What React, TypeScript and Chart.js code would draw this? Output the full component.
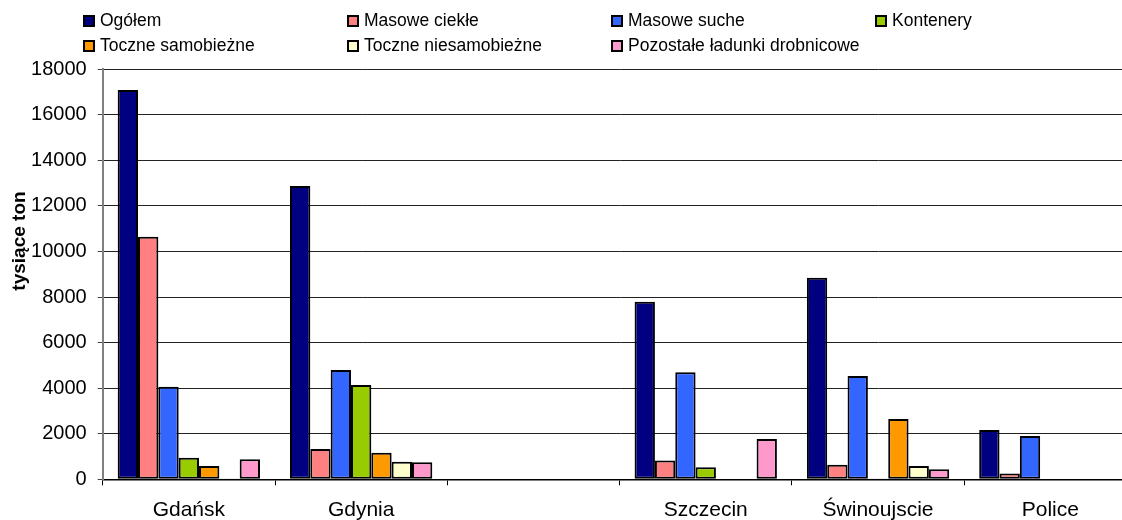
import React, { useEffect, useRef } from "react";
import { Chart, registerables } from "chart.js";

Chart.register(...registerables);

const categories = ["Gdańsk", "Gdynia", "", "Szczecin", "Świnoujscie", "Police"];
const ogolem = [17090, 12880, null, 7800, 8850, 2160];
const masoweCiekle = [10650, 1330, null, 830, 640, 260];
const masoweSuche = [4060, 4800, null, 4700, 4540, 1900];
const kontenery = [950, 4140, null, 530, 10, null];
const toczneSamobiezne = [580, 1170, null, null, 2650, null];
const toczneNiesamobiezne = [10, 770, null, null, 580, null];
const pozostale = [880, 750, null, 1770, 440, null];

const seriesNames = [
  "Ogółem",
  "Masowe ciekłe",
  "Masowe suche",
  "Kontenery",
  "Toczne samobieżne",
  "Toczne niesamobieżne",
  "Pozostałe ładunki drobnicowe",
];
const seriesColors = ["#000080", "#FF8080", "#3366FF", "#99CC00", "#FF9900", "#FFFFCC", "#FF99CC"];
const seriesData = [ogolem, masoweCiekle, masoweSuche, kontenery, toczneSamobiezne, toczneNiesamobiezne, pozostale];

const yTicks = [0, 2000, 4000, 6000, 8000, 10000, 12000, 14000, 16000, 18000];
const yTitle = "tysiące ton";

const FONT = "'Liberation Sans', Arial, sans-serif";

const overlayPlugin = {
  id: "overlay",
  afterDraw(chart: any) {
    const ctx = chart.ctx;
    ctx.save();
    // legend
    ctx.font = `17.5px ${FONT}`;
    ctx.textBaseline = "middle";
    ctx.textAlign = "left";
    chart.data.datasets.forEach((ds: any, i: number) => {
      const col = i % 4;
      const row = Math.floor(i / 4);
      const bx = 83 + 264 * col;
      const by = 15 + 25 * row;
      ctx.fillStyle = ds.backgroundColor;
      ctx.fillRect(bx, by, 12, 12);
      ctx.strokeStyle = "#000";
      ctx.lineWidth = 2;
      ctx.strokeRect(bx + 1, by + 1, 10, 10);
      ctx.fillStyle = "#000";
      ctx.fillText(ds.label, bx + 17, by + 6.5);
    });
    // y axis title
    ctx.translate(20, 241);
    ctx.rotate(-Math.PI / 2);
    ctx.font = `bold 19px ${FONT}`;
    ctx.textAlign = "center";
    ctx.fillStyle = "#000";
    ctx.fillText(yTitle, 0, 0);
    ctx.restore();
  },
};

export default function App() {
  const ref = useRef<HTMLCanvasElement | null>(null);
  useEffect(() => {
    if (!ref.current) return;
    const chart = new Chart(ref.current, {
      type: "bar",
      data: {
        labels: categories,
        datasets: seriesNames.map((name, i) => ({
          label: name,
          data: seriesData[i],
          backgroundColor: seriesColors[i],
          borderColor: "#000",
          borderWidth: 2,
          borderSkipped: false,
          barPercentage: 1,
          categoryPercentage: 0.826,
        })),
      },
      options: {
        responsive: false,
        animation: false,
        devicePixelRatio: 1,
        layout: { padding: { top: 69.3, right: 3.5, bottom: 0, left: 0 } },
        plugins: { legend: { display: false }, tooltip: { enabled: false }, title: { display: false } },
        scales: {
          x: {
            type: "category",
            offset: true,
            grid: {
              display: true,
              drawOnChartArea: false,
              drawTicks: true,
              tickLength: 6,
              offset: true,
              color: "#000",
              tickColor: "#000",
            },
            border: { display: true, color: "#000", width: 1.5 },
            ticks: { font: { family: FONT, size: 21 }, color: "#000", padding: 12, maxRotation: 0, autoSkip: false },
            afterFit: (scale: any) => {
              scale.height = 40.7;
            },
          },
          y: {
            min: 0,
            max: 18000,
            afterBuildTicks: (scale: any) => {
              scale.ticks = yTicks.map((v) => ({ value: v }));
            },
            grid: { color: "#222", tickColor: "#444", tickLength: 5, lineWidth: 1 },
            border: { display: true, color: "#808080", width: 2 },
            ticks: {
              font: { family: FONT, size: 20 },
              color: "#000",
              padding: 11,
              callback: (v: any) => String(v),
            },
            afterFit: (scale: any) => {
              scale.width = 102.7;
            },
          },
        },
      },
      plugins: [overlayPlugin],
    } as any);
    return () => chart.destroy();
  }, []);
  return (
    <div style={{ position: "fixed", left: 0, top: 0, width: 1122, height: 520, overflow: "hidden", background: "#fff" }}>
      <canvas ref={ref} width={1140} height={520} style={{ display: "block", width: 1140, height: 520 }} />
    </div>
  );
}
